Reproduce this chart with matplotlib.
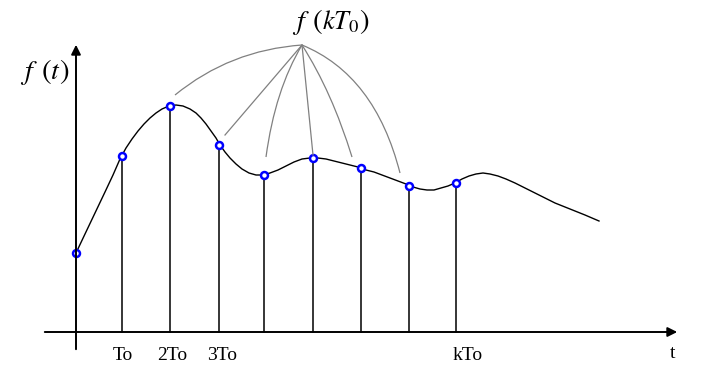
import matplotlib
matplotlib.use('Agg')
from matplotlib import pyplot as plt
from matplotlib.path import Path
from matplotlib.patches import PathPatch

# 坐标按像素读取 (x 向右, y 向下)
curve_x = [76, 85, 95, 105, 113, 120, 126, 132, 138, 144, 150, 156, 162, 169, 176,
           183, 190, 196, 201, 206, 211, 216, 220, 225, 230, 236, 242, 249, 256, 263,
           270, 278, 286, 294, 302, 310, 318, 326, 334, 342, 350, 358, 366, 374, 382,
           390, 398, 406, 413, 420, 427, 434, 441, 448, 455, 462, 469, 476, 483, 490,
           498, 506, 515, 525, 535, 545, 555, 565, 575, 585, 592, 599]
curve_y = [253, 234, 213, 192, 175, 159, 148, 139, 131, 124, 118, 113, 109, 106, 105,
           106, 109, 113, 118, 124, 131, 138, 145, 152, 158, 164, 169, 173, 175, 175,
           173, 170, 166, 162, 159, 158, 158, 159, 161, 163, 165, 167, 170, 172, 175,
           178, 181, 184, 187, 189, 190, 190, 188, 186, 183, 179, 176, 174, 173, 174,
           176, 179, 183, 188, 193, 198, 203, 207, 211, 215, 218, 221]

# 采样点
sample_x = [122, 170, 219, 264, 313, 361, 409, 456]
sample_y = [156, 106, 145, 175, 158, 168, 186, 183]
start_pt = (76, 253)

# f(kT0) 引出线: 终点, 控制点(None 为直线)
apex = (302, 45)
lead_end = [(175, 95), (225, 135), (266, 157), (313, 155), (352, 157), (400, 173)]
lead_ctrl = [(230, 50), None, (275, 90), None, (332, 92), (375, 75)]

tick_x = [123, 172, 222, 468]
tick_labels = ['To', '2To', '3To', 'kTo']

x_axis_y = 332
y_axis_x = 76

plt.rcParams['mathtext.fontset'] = 'stix'

fig = plt.figure(figsize=(7.14, 3.9), dpi=100)
ax = fig.add_axes([0, 0, 1, 1])
ax.set_xlim(0, 714)
ax.set_ylim(390, 0)
ax.axis('off')

# 坐标轴
ax.annotate('', xy=(680, x_axis_y), xytext=(42, x_axis_y),
            arrowprops=dict(arrowstyle='-|>', color='black', lw=1.4, mutation_scale=14))
ax.annotate('', xy=(y_axis_x, 42), xytext=(y_axis_x, 352),
            arrowprops=dict(arrowstyle='-|>', color='black', lw=1.4, mutation_scale=14))

# 曲线
ax.plot(curve_x, curve_y, color='black', lw=1.0)

# 采样竖线
for x, y in zip(sample_x, sample_y):
    ax.plot([x, x], [y, x_axis_y], color='black', lw=1.1)

# 采样点标记
ax.plot([start_pt[0]] + sample_x, [start_pt[1]] + sample_y, 'o', ms=5,
        mfc='white', mec='blue', mew=1.8)

# 引出线
for end, ctrl in zip(lead_end, lead_ctrl):
    if ctrl is None:
        ax.plot([apex[0], end[0]], [apex[1], end[1]], color='gray', lw=0.9)
    else:
        p = Path([apex, ctrl, end], [Path.MOVETO, Path.CURVE3, Path.CURVE3])
        ax.add_patch(PathPatch(p, fc='none', ec='gray', lw=0.9))


# 文字: 公式分块写
def formula(parts, y):
    for x, s, size in parts:
        ax.text(x, y, s, fontsize=size, ha='center', va='baseline')


formula([(29, r'$f$', 20), (46, r'$($', 21), (55, r'$t$', 20), (64, r'$)$', 21)], 79)
formula([(301, r'$f$', 20), (317, r'$($', 21), (341, r'$kT_0$', 19), (364.5, r'$)$', 21)], 29)

for x, s in zip(tick_x, tick_labels):
    ax.text(x, 355, s, fontsize=14, family='Liberation Serif', ha='center', va='center')
ax.text(673, 354, 't', fontsize=14, family='Liberation Serif', ha='center', va='center')

plt.savefig('out.png', dpi=100)
